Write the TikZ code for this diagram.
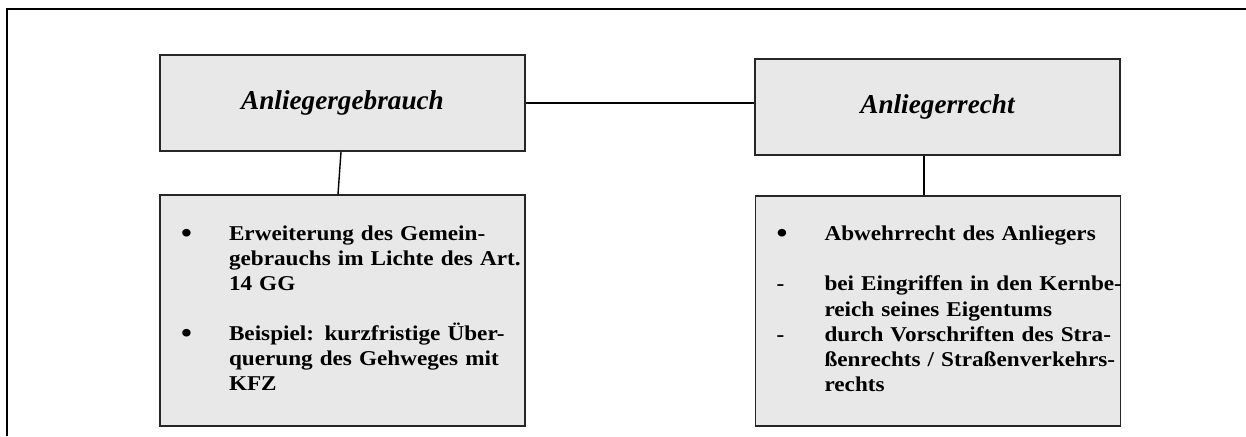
\documentclass[tikz,border=0pt]{standalone}
\usepackage{fontspec}
\setmainfont{Liberation Serif}
\newfontfamily\bodyfont[FakeStretch=1.1]{Liberation Serif}
\usepackage{tikz}

\definecolor{boxgray}{HTML}{E8E8E8}

\newcommand{\dotmark}{\raisebox{-1.3pt}{\fontsize{16}{14}\selectfont\textbullet}}

\tikzset{
    headbox/.style={draw=black!85, line width=0.9pt, fill=boxgray,
        minimum width=7.3cm, minimum height=1.92cm, inner sep=0pt,
        font=\fontsize{15.5}{18}\selectfont\bfseries\itshape},
    listbox/.style={draw=black!85, line width=0.9pt, fill=boxgray,
        minimum width=7.3cm, inner xsep=0.42cm, inner ysep=0pt,
        text width=6.46cm, align=left,
        font=\bodyfont\fontsize{12}{14.3}\selectfont\bfseries},
    link/.style={line width=0.8pt},
    frame/.style={line width=1.2pt}
}

\begin{document}
\begin{tikzpicture}[x=0.02cm,y=-0.02cm]

\useasboundingbox (0,0) rectangle (1246,436);

% Frame
\coordinate (framebottom) at (7,436);
\coordinate (framecorner) at (7,9);
\coordinate (frameright) at (1246,9);
\draw[frame] (framebottom) -- (framecorner) -- (frameright);

% Heads
\node[headbox] (gebrauch) at (342.5,103) {Anliegergebrauch};
\node[headbox] (recht) at (937.5,107) {Anliegerrecht};

% Lists
\node[listbox, minimum height=4.62cm] (gebrauchlist) at (342.5,310.5) {%
\begin{tabular}{@{}p{0.96cm}@{}l@{}}
\dotmark & Erweiterung des Gemein-\\
 & gebrauchs im Lichte des Art.\\
 & 14 GG\\
 & \\
\dotmark & Beispiel: kurzfristige Über-\\
 & querung des Gehweges mit\\
 & KFZ
\end{tabular}};

\node[listbox, minimum height=4.6cm] (rechtlist) at (938,311) {%
\begin{tabular}{@{}p{0.96cm}@{}l@{}}
\dotmark & Abwehrrecht des Anliegers\\
 & \\
- & bei Eingriffen in den Kernbe-\\
 & reich seines Eigentums\\
- & durch Vorschriften des Stra-\\
 & ßenrechts / Straßenverkehrs-\\
 & rechts
\end{tabular}};

% Links
\draw[link] (gebrauch.east) -- (gebrauch.east -| recht.west);
\draw[link] ([xshift=-0.03cm]gebrauch.south) -- ([xshift=-0.09cm]gebrauchlist.north);
\draw[link] ([xshift=-0.27cm]recht.south) -- ([xshift=-0.27cm]recht.south |- rechtlist.north);

\end{tikzpicture}
\end{document}
